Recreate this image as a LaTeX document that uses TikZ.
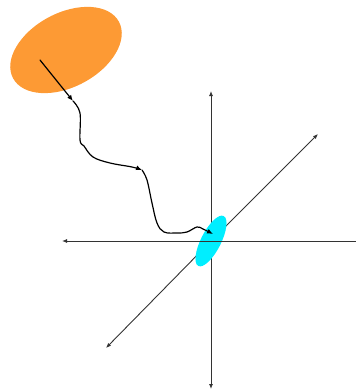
\documentclass[tikz,border=0pt]{standalone}
\usepackage{tikz}
\usetikzlibrary{arrows.meta}
\usepackage{xcolor}
\definecolor{blob}{RGB}{253,154,52}
\definecolor{spot}{RGB}{0,238,255}

\begin{document}
\begin{tikzpicture}[x=1pt,y=-1pt,>={Latex[length=5pt,width=4pt]},line cap=round,
  axis/.style={black!80,line width=0.9pt,->},
  walk/.style={black,line width=1.2pt,->,>={Latex[length=6pt,width=5pt]}}]
\useasboundingbox (0,0) rectangle (356,391);
\coordinate (O) at (211,241);
\fill[blob,rotate around={28:(66,50)}] (66,50) ellipse [x radius=60,y radius=37];
\draw[axis] (211,241) -- (318,134);
\draw[axis] (211,241) -- (106,348);
\draw[axis] (O) -- (211,91);
\draw[axis] (O) -- (211,389);
\fill[spot,rotate around={63:(O)}] (O) ellipse [x radius=28,y radius=10];
\draw[axis] (O) -- (62,241);
\draw[black!80,line width=0.9pt] (O) -- (356,241);
\coordinate (s) at (40,60);
\coordinate (m1) at (73,101);
\coordinate (m2) at (142,170);
\coordinate (e) at (213,234);
\draw[walk] (s) -- (m1);
\draw[walk] plot[smooth,tension=0.6] coordinates {(73,101) (80,113) (80,140) (84,146) (93,157) (110,163) (132,167) (142,170)};
\draw[walk] plot[smooth,tension=0.6] coordinates {(142,170) (147,180) (152,203) (157,223) (164,232) (177,233) (187,232) (197,227) (203,229) (213,234)};
\end{tikzpicture}
\end{document}
